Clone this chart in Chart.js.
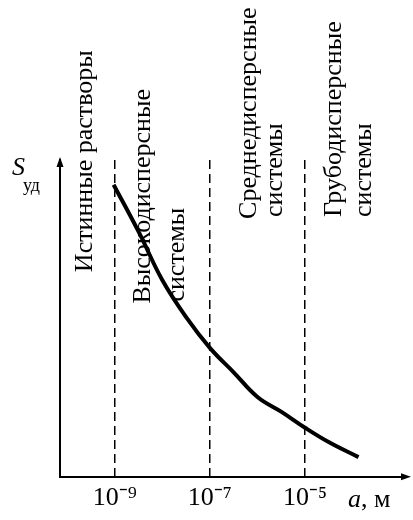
<!DOCTYPE html>
<html>
<head>
<meta charset="utf-8">
<script src="https://cdn.jsdelivr.net/npm/chart.js@4"></script>
<style>
html, body { margin: 0; padding: 0; background: #fff; }
</style>
</head>
<body>
<canvas id="c" width="413" height="520"></canvas>
<script>
// particle size a, m (log axis) and specific surface S_уд (arbitrary units)
const sizes = [9.5e-10, 3.2e-9, 1e-8, 3.2e-8, 1e-7, 3.2e-7, 1e-6, 3.2e-6, 1e-5, 3.2e-5, 1.33e-4];
const surface = [92.2, 77.3, 62.1, 50.3, 40.7, 32.9, 25.2, 20.5, 15.5, 10.9, 6.2];
const tickValues = [1e-9, 1e-7, 1e-5];
const tickLabels = ['10⁻⁹', '10⁻⁷', '10⁻⁵'];
const regionLabels = ['Истинные растворы', 'Высокодисперсные', 'системы', 'Среднедисперсные', 'системы', 'Грубодисперсные', 'системы'];

const FONT = '"Liberation Serif", "Times New Roman", serif';

// start of each rotated label line, in data units [a, S]
const labelAnchors = [[3.4e-10, 64.6], [5.6e-9, 54.7], [2.8e-8, 55.3], [9.5e-7, 81.4], [3.3e-6, 82], [5.6e-5, 82], [2.4e-4, 82]];

const annot = {
    id: 'annot',
    afterDraw(chart) {
        const { ctx, chartArea: a, scales: { x, y } } = chart;
        ctx.save();
        ctx.fillStyle = '#000';

        // axis arrows
        ctx.beginPath();
        ctx.moveTo(a.left, a.top - 3);
        ctx.lineTo(a.left - 3.5, a.top + 7);
        ctx.lineTo(a.left + 3.5, a.top + 7);
        ctx.closePath();
        ctx.fill();
        ctx.beginPath();
        ctx.moveTo(a.right + 6, a.bottom);
        ctx.lineTo(a.right - 4, a.bottom - 3.5);
        ctx.lineTo(a.right - 4, a.bottom + 3.5);
        ctx.closePath();
        ctx.fill();

        // region names, written bottom to top
        ctx.font = '26px ' + FONT;
        ctx.textAlign = 'left';
        ctx.textBaseline = 'alphabetic';
        regionLabels.forEach((t, i) => {
            const [sx, sy] = labelAnchors[i];
            ctx.save();
            ctx.translate(x.getPixelForValue(sx), y.getPixelForValue(sy));
            ctx.rotate(-Math.PI / 2);
            ctx.fillText(t, 0, 0);
            ctx.restore();
        });

        // y title S_уд
        ctx.font = 'italic 26px ' + FONT;
        ctx.fillText('S', a.left - 48, a.top + 15);
        ctx.font = '18px ' + FONT;
        ctx.fillText('уд', a.left - 37, a.top + 31);

        // x title a, м
        const tx = a.right - 57, ty = a.bottom + 30;
        ctx.font = 'italic 26px ' + FONT;
        ctx.fillText('a', tx, ty);
        const w = ctx.measureText('a').width;
        ctx.font = '26px ' + FONT;
        ctx.fillText(', м', tx + w, ty);
        ctx.restore();
    }
};

new Chart(document.getElementById('c').getContext('2d'), {
    type: 'line',
    data: {
        datasets: [{
            data: sizes.map((s, i) => ({ x: s, y: surface[i] })),
            borderColor: '#000',
            borderWidth: 4,
            pointRadius: 0,
            tension: 0.4,
            fill: false
        }]
    },
    options: {
        responsive: false,
        animation: false,
        layout: { padding: { left: 60, top: 160, right: 8, bottom: 0 } },
        plugins: { legend: { display: false }, tooltip: { enabled: false } },
        scales: {
            x: {
                type: 'logarithmic',
                bounds: 'data',
                min: 7.1e-11,
                max: 1.26e-3,
                afterBuildTicks: s => { s.ticks = tickValues.map(v => ({ value: v })); },
                ticks: {
                    callback: (v, i) => tickLabels[i],
                    color: '#000',
                    font: { family: FONT, size: 26 },
                    padding: 6,
                    maxRotation: 0,
                    autoSkip: false
                },
                grid: { color: '#000', lineWidth: 1.5, drawTicks: false },
                border: { color: '#000', width: 2, dash: [9, 5] }
            },
            y: {
                min: 0,
                max: 100,
                ticks: { display: false },
                grid: { display: false, drawTicks: false },
                border: { color: '#000', width: 2 }
            }
        }
    },
    plugins: [annot]
});
</script>
</body>
</html>
